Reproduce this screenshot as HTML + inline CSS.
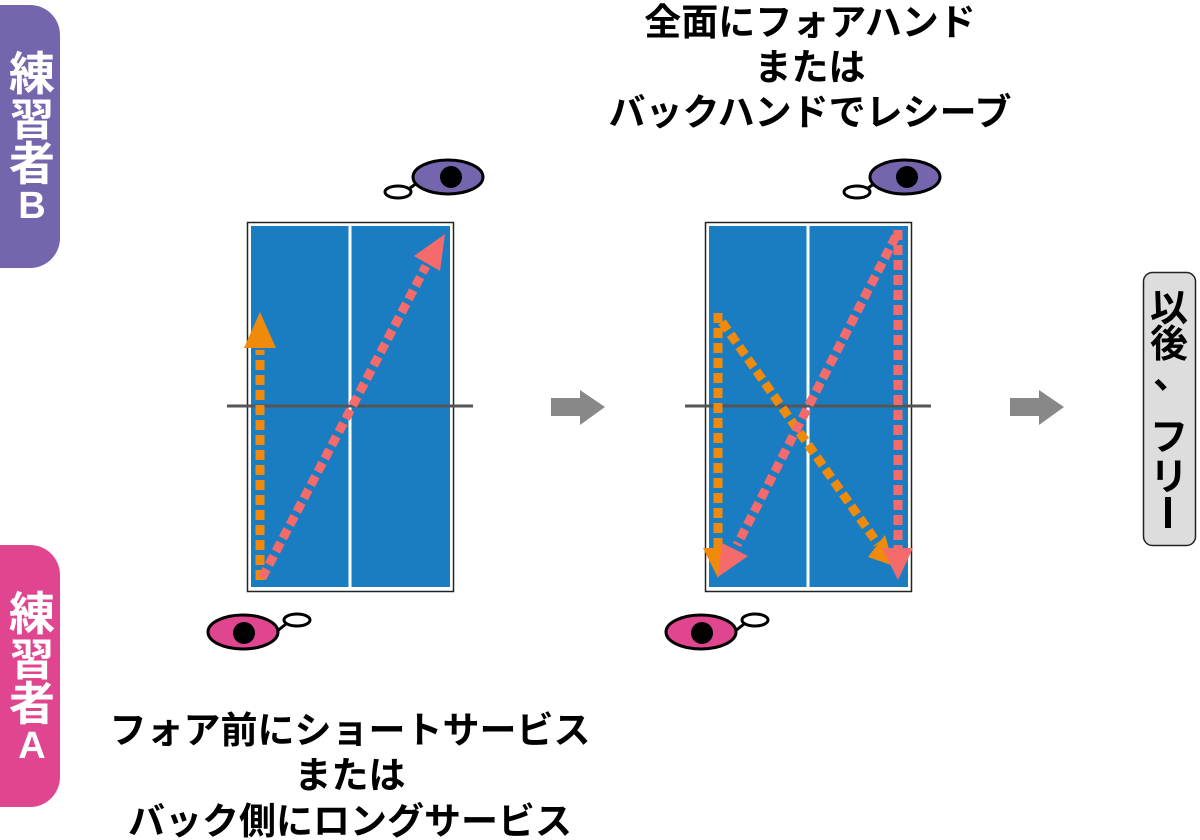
<!DOCTYPE html>
<html><head><meta charset="utf-8"><style>
html,body{margin:0;padding:0;background:#fff;}
svg{display:block;}
text{font-family:"Liberation Sans","Noto Sans CJK JP",sans-serif;font-weight:bold;}
</style></head><body>
<svg width="1200" height="840" viewBox="0 0 1200 840" xmlns="http://www.w3.org/2000/svg">
<rect x="-30" y="5" width="90" height="263" rx="30" fill="#7565ad"/>
<text x="32" y="90" font-size="46" fill="#fff" text-anchor="middle">練</text>
<text x="32" y="135" font-size="44" fill="#fff" text-anchor="middle">習</text>
<text x="32" y="180" font-size="46" fill="#fff" text-anchor="middle">者</text>
<text x="32" y="218" font-size="38" fill="#fff" text-anchor="middle" font-weight="normal">B</text>
<rect x="-30" y="545" width="90" height="262" rx="30" fill="#e0458f"/>
<text x="32" y="630" font-size="46" fill="#fff" text-anchor="middle">練</text>
<text x="32" y="675" font-size="44" fill="#fff" text-anchor="middle">習</text>
<text x="32" y="720" font-size="46" fill="#fff" text-anchor="middle">者</text>
<text x="32" y="758" font-size="38" fill="#fff" text-anchor="middle" font-weight="normal">A</text>

<text x="810" y="35" font-size="37" text-anchor="middle">全面にフォアハンド</text>
<text x="810" y="80" font-size="37" text-anchor="middle">または</text>
<text x="810" y="125" font-size="37" text-anchor="middle">バックハンドでレシーブ</text>
<text x="350" y="743" font-size="37" text-anchor="middle">フォア前にショートサービス</text>
<text x="350" y="788" font-size="37" text-anchor="middle">または</text>
<text x="350" y="834" font-size="37" text-anchor="middle">バック側にロングサービス</text>

<rect x="247.5" y="222.5" width="206" height="369" fill="#fff" stroke="#222" stroke-width="1.5"/>
<rect x="251" y="226" width="199" height="361" fill="#1a7dc2"/>
<line x1="350" y1="226" x2="350" y2="587" stroke="#fff" stroke-width="3"/>
<line x1="227" y1="406" x2="473" y2="406" stroke="#555" stroke-width="3"/>
<line x1="260" y1="580" x2="260" y2="350" stroke="#f08a0a" stroke-width="9" stroke-dasharray="10,5"/>
<polygon points="260,312 244,348 276,348" fill="#f08a0a"/>
<line x1="262" y1="578" x2="426" y2="266" stroke="#f56b6b" stroke-width="9" stroke-dasharray="10,5"/>
<polygon points="445,234 414,256 440,271" fill="#f56b6b"/>

<rect x="705.5" y="222.5" width="206" height="369" fill="#fff" stroke="#222" stroke-width="1.5"/>
<rect x="709" y="226" width="199" height="361" fill="#1a7dc2"/>
<line x1="808" y1="226" x2="808" y2="587" stroke="#fff" stroke-width="3"/>
<line x1="685" y1="406" x2="931" y2="406" stroke="#555" stroke-width="3"/>
<line x1="718" y1="313" x2="718" y2="548" stroke="#f08a0a" stroke-width="9" stroke-dasharray="10,5"/>
<polygon points="718,578 703,548 733,548" fill="#f08a0a"/>
<line x1="722" y1="322" x2="878" y2="544" stroke="#f08a0a" stroke-width="9" stroke-dasharray="10,5"/>
<polygon points="868,557 885,535 894,566" fill="#f08a0a"/>
<line x1="896" y1="236" x2="737" y2="545" stroke="#f56b6b" stroke-width="9" stroke-dasharray="10,5"/>
<polygon points="748,556 722,543 718,577" fill="#f56b6b"/>
<line x1="898" y1="230" x2="898" y2="548" stroke="#f56b6b" stroke-width="9" stroke-dasharray="10,5"/>
<polygon points="898,580 882,548 913,548" fill="#f56b6b"/>

<g stroke="#000" stroke-width="3">
<line x1="410" y1="188" x2="420" y2="181"/>
<ellipse cx="398" cy="192" rx="13" ry="6" fill="#fff"/>
<ellipse cx="448" cy="177" rx="35" ry="17" fill="#7565ad"/>
<line x1="286" y1="624" x2="276" y2="632"/>
<ellipse cx="297" cy="620" rx="13" ry="6" fill="#fff"/>
<ellipse cx="243" cy="632" rx="35" ry="17" fill="#e0458f"/>
<line x1="868" y1="188" x2="878" y2="181"/>
<ellipse cx="857" cy="192" rx="13" ry="6" fill="#fff"/>
<ellipse cx="905" cy="177" rx="35" ry="17" fill="#7565ad"/>
<line x1="744" y1="624" x2="734" y2="632"/>
<ellipse cx="755" cy="620" rx="13" ry="6" fill="#fff"/>
<ellipse cx="701" cy="632" rx="35" ry="17" fill="#e0458f"/>
</g>
<circle cx="451" cy="177" r="11"/>
<circle cx="244" cy="633" r="11"/>
<circle cx="907" cy="177" r="11"/>
<circle cx="702" cy="633" r="11"/>

<polygon points="551,398 580,398 580,390 605,407 580,425 580,416 551,416" fill="#888"/>
<polygon points="1010,398 1039,398 1039,390 1064,407 1039,425 1039,416 1010,416" fill="#888"/>

<rect x="1143.5" y="272.5" width="52" height="273" rx="9" fill="#ddd" stroke="#222" stroke-width="1.5"/>
<text x="1169" y="321" font-size="38" text-anchor="middle">以</text>
<text x="1169" y="357" font-size="38" text-anchor="middle">後</text>
<text x="1172" y="388" font-size="38" text-anchor="middle">、</text>
<text x="1169" y="450" font-size="38" text-anchor="middle" font-weight="normal">フ</text>
<text x="1169" y="490" font-size="38" text-anchor="middle" font-weight="normal">リ</text>
<rect x="1165" y="497" width="6" height="31" fill="#000"/>
</svg>
</body></html>
